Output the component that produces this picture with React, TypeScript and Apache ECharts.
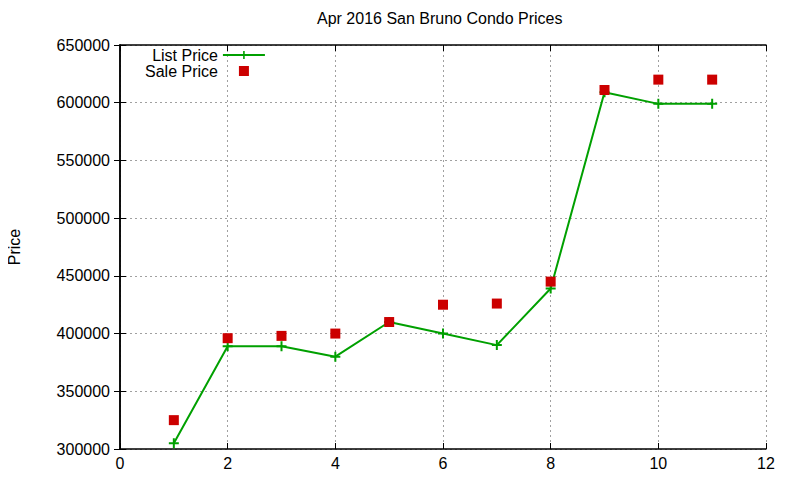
import React, { useEffect, useRef } from "react";
import * as echarts from "echarts";

// values
const months = [1, 2, 3, 4, 5, 6, 7, 8, 9, 10, 11];
const listPrice = [305000, 389000, 389000, 380000, 410000, 400000, 390000, 439000, 609000, 599000, 599000];
const salePrice = [325000, 396000, 398000, 400000, 410000, 425000, 426000, 445000, 611000, 620000, 620000];

const FONT = "Liberation Sans";
const GREEN = "#00a000";
const RED = "#cc0000";
const PLUS = "path://M4,0h2v4h4v2h-4v4h-2v-4h-4v-2h4z";
const SQUARE = "path://M0,0h10v10h-10z";

const App = () => {
  const chartRef = useRef<HTMLDivElement | null>(null);

  useEffect(() => {
    if (!chartRef.current) return;
    const chart = echarts.init(chartRef.current, undefined, { renderer: "svg" });

    const tickStyle = { show: true, inside: true, length: 6, lineStyle: { color: "#000", width: 1 } };
    const lineStyle = { show: true, lineStyle: { color: "#000", width: 1.5 } };
    const gridLine = { show: true, lineStyle: { color: "#a0a0a0", type: [2, 3] as number[], width: 1 } };

    const options = {
      animation: false,
      backgroundColor: "#fff",
      textStyle: { fontFamily: FONT },
      title: {
        text: "Apr 2016 San Bruno Condo Prices",
        left: 317,
        top: 10,
        padding: 0,
        textStyle: { fontFamily: FONT, fontSize: 16, fontWeight: "normal", color: "#000" },
      },
      legend: {
        orient: "vertical",
        align: "right",
        left: 145,
        top: 47,
        padding: 0,
        itemWidth: 42,
        itemHeight: 10,
        itemGap: 0,
        symbolKeepAspect: true,
        textStyle: { fontFamily: FONT, fontSize: 16, color: "#000", lineHeight: 15 },
        data: [
          { name: "List Price" },
          { name: "Sale Price", icon: SQUARE },
        ],
      },
      grid: { left: 120, right: 34, top: 45, bottom: 31, containLabel: false, outerBoundsMode: "none" },
      xAxis: [
        {
          type: "value",
          min: 0,
          max: 12,
          interval: 2,
          axisLine: lineStyle,
          axisTick: tickStyle,
          splitLine: gridLine,
          axisLabel: { fontFamily: FONT, fontSize: 16, color: "#000", margin: 6 },
        },
        {
          type: "value",
          position: "top",
          min: 0,
          max: 12,
          interval: 2,
          axisLine: lineStyle,
          axisTick: tickStyle,
          splitLine: { show: false },
          axisLabel: { show: false },
        },
      ],
      yAxis: [
        {
          type: "value",
          min: 300000,
          max: 650000,
          interval: 50000,
          name: "Price",
          nameLocation: "middle",
          nameRotate: 90,
          nameGap: 98,
          nameTextStyle: { fontFamily: FONT, fontSize: 16, color: "#000" },
          axisLine: lineStyle,
          axisTick: tickStyle,
          splitLine: gridLine,
          axisLabel: {
            fontFamily: FONT,
            fontSize: 16,
            color: "#000",
            margin: 10,
            formatter: (v: number) => String(v),
          },
        },
        {
          type: "value",
          position: "right",
          min: 300000,
          max: 650000,
          interval: 50000,
          axisLine: lineStyle,
          axisTick: tickStyle,
          splitLine: { show: false },
          axisLabel: { show: false },
        },
      ],
      series: [
        {
          name: "List Price",
          type: "line",
          data: months.map((m, i) => [m, listPrice[i]]),
          symbol: PLUS,
          symbolSize: 10,
          showAllSymbol: true,
          itemStyle: { color: GREEN },
          lineStyle: { color: GREEN, width: 2 },
          z: 3,
        },
        {
          name: "Sale Price",
          type: "scatter",
          data: months.map((m, i) => [m, salePrice[i]]),
          symbol: "rect",
          symbolSize: 10,
          itemStyle: { color: RED, opacity: 1 },
          z: 4,
        },
      ],
    };

    chart.setOption(options);
    return () => {
      chart.dispose();
    };
  }, []);

  return <div ref={chartRef} style={{ width: 800, height: 480, margin: -8 }}></div>;
};

export default App;
